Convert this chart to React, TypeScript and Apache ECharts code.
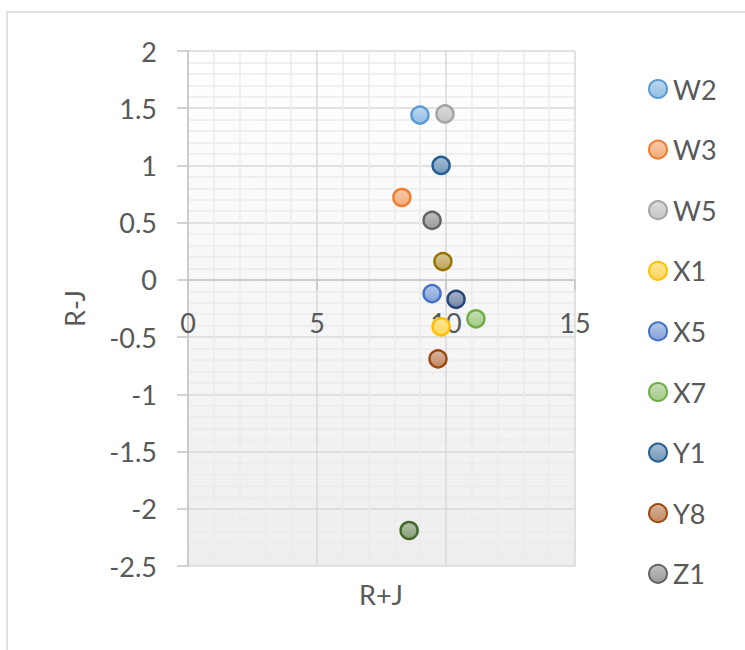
import React, { useEffect, useRef } from "react";
import * as echarts from "echarts";

// Series names (legend shows the first nine)
const seriesNames = ["W2", "W3", "W5", "X1", "X5", "X7", "Y1", "Y8", "Z1", "Z2", "Z3", "Z4"];
const legendNames = ["W2", "W3", "W5", "X1", "X5", "X7", "Y1", "Y8", "Z1"];
// R+J values
const xValues = [8.99, 8.29, 9.96, 9.81, 9.46, 11.16, 9.81, 9.69, 9.46, 9.88, 10.39, 8.57];
// R-J values
const yValues = [1.44, 0.72, 1.45, -0.41, -0.12, -0.34, 1.0, -0.69, 0.52, 0.16, -0.17, -2.19];
const seriesColors = [
  "#5B9BD5", "#ED7D31", "#A5A5A5", "#FFC000", "#4472C4", "#70AD47",
  "#255E91", "#9E480E", "#636363", "#997300", "#264478", "#43682B",
];
// axis ranges
const X_MIN = 0, X_MAX = 15, X_STEP = 5;
const Y_MIN = -2.5, Y_MAX = 2, Y_STEP = 0.5;

function mix(hex: string, t: number): string {
  const n = parseInt(hex.slice(1), 16);
  const r = (n >> 16) & 255, g = (n >> 8) & 255, b = n & 255;
  const m = (c: number) => Math.round(c + (255 - c) * t);
  return `rgb(${m(r)},${m(g)},${m(b)})`;
}

const FONT = "Lato, 'Open Sans', sans-serif";
const TEXT = "#595959";
const FS = 27;
const GRID_TOP = 51;
const GRID_H = 515;

export default function App() {
  const ref = useRef<HTMLDivElement>(null);
  useEffect(() => {
    document.body.style.margin = "0";
    if (!ref.current) return;
    const chart = echarts.init(ref.current, undefined, { renderer: "svg" });
    const series = seriesNames.map((name, i) => ({
      name,
      type: "scatter",
      data: [[xValues[i], yValues[i]]],
      symbol: "circle",
      symbolSize: 17,
      itemStyle: {
        color: new echarts.graphic.LinearGradient(0, 0, 0, 1, [
          { offset: 0, color: mix(seriesColors[i], 0.6) },
          { offset: 1, color: mix(seriesColors[i], 0.35) },
        ]),
        borderColor: seriesColors[i],
        borderWidth: 2.5,
        opacity: 1,
      },
      emphasis: { disabled: true },
    }));
    // x axis crosses at y = 0
    const zeroOffset = -((0 - Y_MIN) / (Y_MAX - Y_MIN)) * GRID_H;
    chart.setOption({
      animation: false,
      textStyle: { fontFamily: FONT },
      grid: {
        left: 188,
        top: GRID_TOP,
        width: 387,
        height: GRID_H,
        show: true,
        borderWidth: 0,
        backgroundColor: new echarts.graphic.LinearGradient(0, 0, 0, 1, [
          { offset: 0, color: "#ffffff" },
          { offset: 1, color: "#eeeeee" },
        ]),
      },
      xAxis: {
        type: "value",
        position: "bottom",
        offset: zeroOffset,
        min: X_MIN,
        max: X_MAX,
        interval: X_STEP,
        axisLine: { show: true, onZero: false, lineStyle: { color: "#c4c4c4", width: 1.5 } },
        axisTick: { show: true, length: 10, lineStyle: { color: "#c4c4c4", width: 1.5 } },
        axisLabel: { margin: 29, fontSize: FS, color: TEXT, fontFamily: FONT },
        splitLine: { show: true, lineStyle: { color: "#d9d9d9", width: 1.5 } },
        minorTick: { show: false, splitNumber: 5 },
        minorSplitLine: { show: true, lineStyle: { color: "#ebebeb", width: 1.5 } },
      },
      yAxis: {
        type: "value",
        min: Y_MIN,
        max: Y_MAX,
        interval: Y_STEP,
        name: "R-J",
        nameLocation: "middle",
        nameRotate: 90,
        nameGap: 100,
        nameTextStyle: { fontSize: FS, color: TEXT, fontFamily: FONT },
        axisLine: { show: true, onZero: false, lineStyle: { color: "#c4c4c4", width: 1.5 } },
        axisTick: { show: true, length: 11, lineStyle: { color: "#c4c4c4", width: 1.5 } },
        axisLabel: { margin: 31, fontSize: FS, color: TEXT, fontFamily: FONT },
        splitLine: { show: true, lineStyle: { color: "#d9d9d9", width: 1.5 } },
        minorTick: { show: false, splitNumber: 5 },
        minorSplitLine: { show: true, lineStyle: { color: "#ebebeb", width: 1.5 } },
      },
      legend: {
        data: legendNames,
        orient: "vertical",
        left: 643,
        top: 70.5,
        itemWidth: 20,
        itemHeight: 18,
        itemGap: 33.6,
        icon: "circle",
        textStyle: { fontSize: FS, color: TEXT, fontFamily: FONT, lineHeight: 27 },
      },
      graphic: [
        {
          type: "rect",
          shape: { x: 7, y: 12, width: 900, height: 800 },
          style: { fill: "none", stroke: "#d9d9d9", lineWidth: 1.5 },
          silent: true,
        },
        {
          type: "text",
          x: 381,
          y: 594,
          style: {
            text: "R+J",
            fontSize: FS,
            fill: TEXT,
            fontFamily: FONT,
            textAlign: "center",
            textVerticalAlign: "middle",
          },
          silent: true,
        },
      ],
      series,
    });
    return () => chart.dispose();
  }, []);
  return <div ref={ref} style={{ width: 745, height: 650 }} />;
}
